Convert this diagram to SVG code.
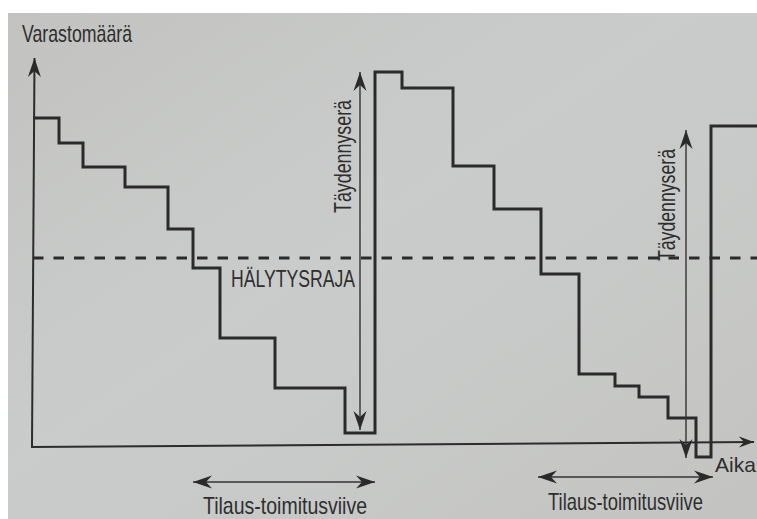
<svg xmlns="http://www.w3.org/2000/svg" width="757" height="519" viewBox="0 0 757 519">
<style>
.bg{fill:url(#paper)}
.stair{fill:none;stroke:#2a2a2a;stroke-width:3;stroke-linejoin:miter;stroke-linecap:square}
.axis{fill:none;stroke:#2c2c2c;stroke-width:2}
.thin{fill:none;stroke:#333;stroke-width:1.4}
.dash{fill:none;stroke:#2a2a2a;stroke-width:3;stroke-dasharray:10.5 10}
.lbl{font-family:"Liberation Sans",Arial,Helvetica,sans-serif;font-size:24px;fill:#2e2e2e}
</style>
<defs>
<linearGradient id="paper" x1="0" y1="0" x2="1" y2="1">
<stop offset="0" stop-color="#c2c3c1"/>
<stop offset="0.45" stop-color="#cacccb"/>
<stop offset="1" stop-color="#c3c4c2"/>
</linearGradient>
<marker id="ah" viewBox="-19 -7 20 14" refX="0" refY="0" markerWidth="20" markerHeight="14" markerUnits="userSpaceOnUse" orient="auto-start-reverse">
<path d="M0,0 L-19,-6.5 L-13,0 L-19,6.5 Z" fill="#2a2a2a"/>
</marker>
<marker id="ahs" viewBox="-15 -6 16 12" refX="0" refY="0" markerWidth="16" markerHeight="12" markerUnits="userSpaceOnUse" orient="auto-start-reverse">
<path d="M0,0 L-15,-5.5 L-10,0 L-15,5.5 Z" fill="#2a2a2a"/>
</marker>
</defs>
<rect x="0" y="0" width="757" height="519" fill="#ffffff"/>
<rect class="bg" x="8" y="13" width="749" height="506"/>

<g id="axes">
<line class="axis" x1="32" y1="447" x2="34.5" y2="58" marker-end="url(#ah)"/>
<line class="axis" x1="31" y1="447" x2="754" y2="442" marker-end="url(#ahs)"/>
<text class="lbl" x="22" y="42" textLength="110" lengthAdjust="spacingAndGlyphs">Varastomäärä</text>
<text class="lbl" x="715" y="472" style="font-size:21px">Aika</text>
</g>

<g id="alarm-limit">
<line class="dash" x1="33" y1="258" x2="757" y2="258"/>
<text class="lbl" x="231" y="287" textLength="124" lengthAdjust="spacingAndGlyphs">HÄLYTYSRAJA</text>
</g>

<g id="inventory">
<polyline class="stair" points="34.5,118 59,118 59,143 83,143 83,167 125,167 125,187 168,187 168,229 193,229 193,268 220,268 220,338 275,338 275,388 345,388 345,433 375,433 375,72 402,72 402,88 453,88 453,166 494,166 494,209 541,209 541,274 579,274 579,374 615,374 615,386 639,386 639,397 668,397 668,418 696,418 696,457 711,457 711,126 760,126"/>
</g>

<g id="connectors">
<line class="thin" x1="360" y1="72" x2="360" y2="430" marker-start="url(#ah)" marker-end="url(#ah)"/>
<line class="thin" x1="686" y1="130" x2="686" y2="458" marker-start="url(#ah)" marker-end="url(#ah)"/>
<line class="thin" x1="193" y1="482" x2="375" y2="482" marker-start="url(#ah)" marker-end="url(#ah)"/>
<line class="thin" x1="538" y1="477" x2="713" y2="477" marker-start="url(#ah)" marker-end="url(#ah)"/>
</g>

<g id="labels">
<text class="lbl" transform="translate(351,213) rotate(-90)" textLength="113" lengthAdjust="spacingAndGlyphs">Täydennyserä</text>
<text class="lbl" transform="translate(675,261) rotate(-90)" textLength="112" lengthAdjust="spacingAndGlyphs">Täydennyserä</text>
<text class="lbl" x="203" y="514" textLength="164" lengthAdjust="spacingAndGlyphs">Tilaus-toimitusviive</text>
<text class="lbl" x="548" y="510" textLength="155" lengthAdjust="spacingAndGlyphs">Tilaus-toimitusviive</text>
</g>
</svg>
